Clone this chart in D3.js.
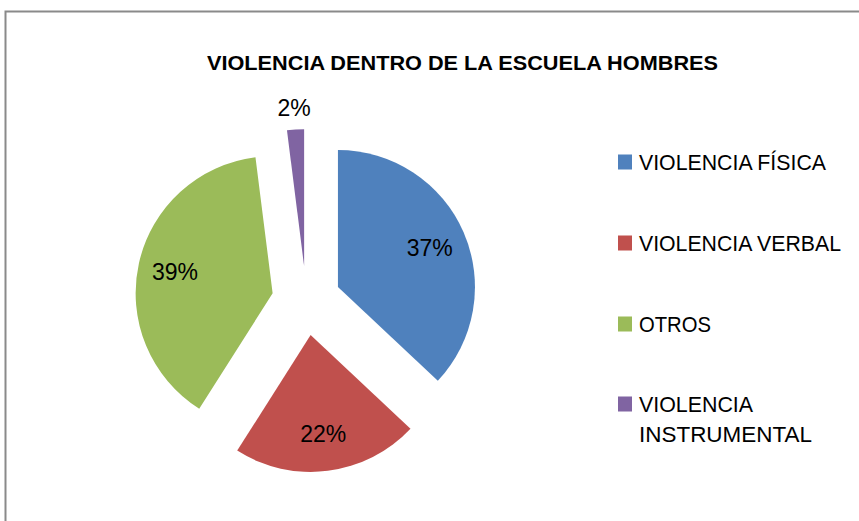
<!DOCTYPE html>
<html><head><meta charset="utf-8">
<script src="https://cdn.jsdelivr.net/npm/d3@7"></script>
<style>body{margin:0;background:#fff}svg{display:block}</style>
</head><body>
<script>
const categories = ["VIOLENCIA FÍSICA","VIOLENCIA VERBAL","OTROS","VIOLENCIA INSTRUMENTAL"];
const values = [37, 22, 39, 2];
const colors = ["#4F81BD","#C0504D","#9BBB59","#8064A2"];
const title = "VIOLENCIA DENTRO DE LA ESCUELA HOMBRES";

const W = 859, H = 521;
const svg = d3.select("body").append("svg").attr("width", W).attr("height", H);
svg.append("rect").attr("width", W).attr("height", H).attr("fill", "#fff");
svg.append("path").attr("d", `M5.5,${H+5} V11.5 H${W+5}`).attr("fill","none").attr("stroke","#8a8a8a").attr("stroke-width",2);

svg.append("text").attr("x", 462.5).attr("y", 70).attr("text-anchor","middle")
  .attr("font-family","Liberation Sans, Arial, sans-serif").attr("font-weight","bold")
  .attr("font-size",21).attr("textLength",511).attr("lengthAdjust","spacingAndGlyphs")
  .attr("fill","#000").text(title);

const cx = 306.3, cy = 300.7, r = 137, explode = 34.5;
const pie = d3.pie().sort(null).value(d => d)(values);
const arc = d3.arc().innerRadius(0).outerRadius(r);
const g = svg.append("g").attr("transform", `translate(${cx},${cy})`);
const total = d3.sum(values);

pie.forEach((p, i) => {
  const mid = (p.startAngle + p.endAngle) / 2;
  const dx = Math.sin(mid) * explode, dy = -Math.cos(mid) * explode;
  g.append("path").attr("d", arc(p)).attr("fill", colors[i])
    .attr("transform", `translate(${dx},${dy})`);
  const pct = Math.round(p.data / total * 100) + "%";
  const lr = (i === 3) ? explode + r + 22 : explode + 100;
  const lx = Math.sin(mid) * lr, ly = -Math.cos(mid) * lr;
  g.append("text").attr("x", lx).attr("y", ly).attr("dy","0.36em")
    .attr("text-anchor","middle").attr("font-family","Liberation Sans, Arial, sans-serif")
    .attr("font-size",23).attr("fill","#000").text(pct);
});

const legend = svg.append("g");
const legendY = [162, 243, 324, 404];
const legendW = [187, 202, 72, null];
categories.forEach((c, i) => {
  const y = legendY[i];
  legend.append("rect").attr("x", 618).attr("y", y - 7.5).attr("width", 14).attr("height", 15).attr("fill", colors[i]);
  if (i === 3) {
    legend.append("text").attr("x", 639).attr("y", y + 8)
      .attr("font-family","Liberation Sans, Arial, sans-serif").attr("font-size",21.5).attr("fill","#000")
      .attr("textLength",114).attr("lengthAdjust","spacingAndGlyphs").text("VIOLENCIA");
    legend.append("text").attr("x", 639).attr("y", y + 38)
      .attr("font-family","Liberation Sans, Arial, sans-serif").attr("font-size",21.5).attr("fill","#000")
      .attr("textLength",173).attr("lengthAdjust","spacingAndGlyphs").text("INSTRUMENTAL");
  } else {
    legend.append("text").attr("x", 639).attr("y", y + 8)
      .attr("font-family","Liberation Sans, Arial, sans-serif").attr("font-size",21.5).attr("fill","#000")
      .attr("textLength",legendW[i]).attr("lengthAdjust","spacingAndGlyphs").text(c);
  }
});
</script>
</body></html>
